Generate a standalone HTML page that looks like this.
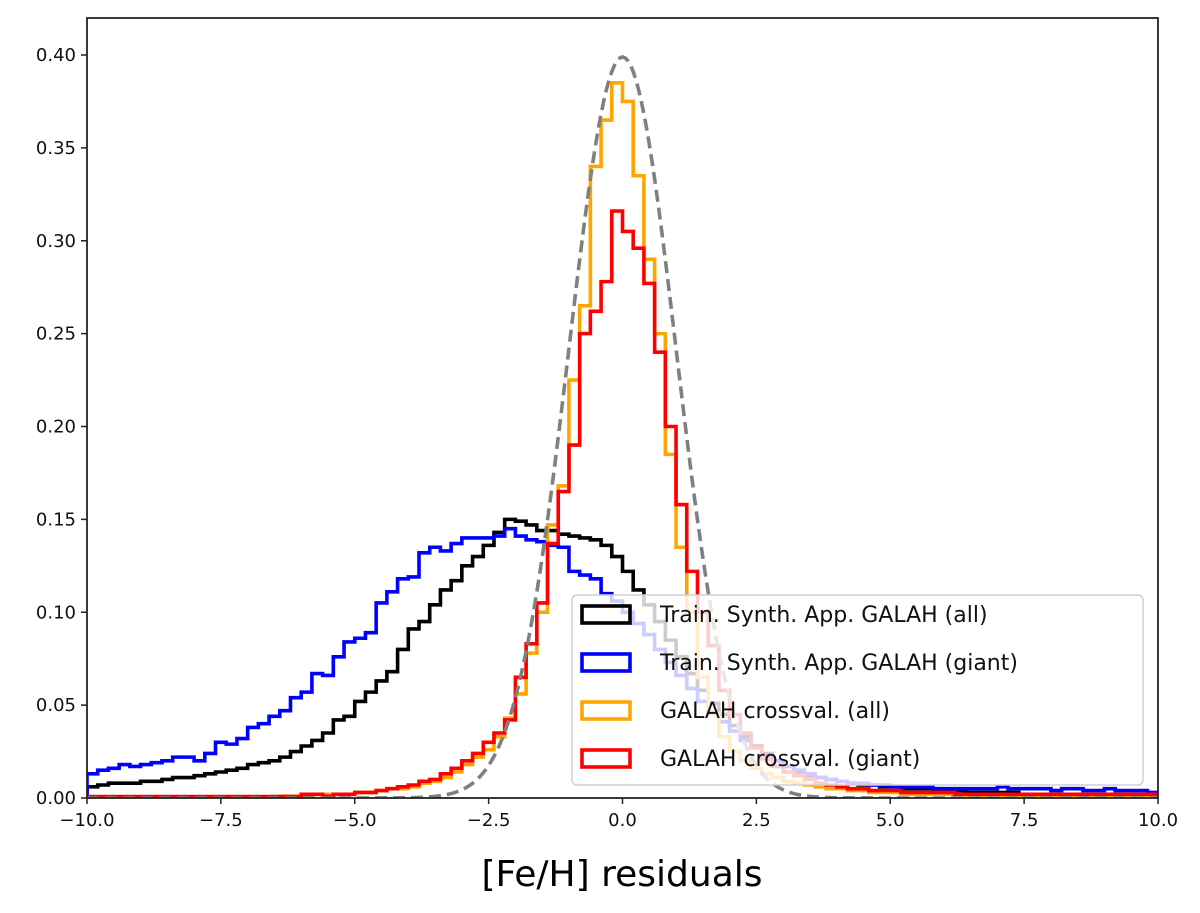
<!DOCTYPE html>
<html><head><meta charset="utf-8"><style>
body{margin:0;background:#fff;}
svg{display:block;font-family:"DejaVu Sans","Liberation Sans",sans-serif;}
</style></head><body>
<svg id="chart" width="1200" height="913">
<rect width="1200" height="913" fill="#fff"/>
<g id="marks"></g>
<g id="axes"></g>
<g id="legend"></g>
<text x="622" y="886" font-size="36" text-anchor="middle" fill="#000">[Fe/H] residuals</text>
</svg>
<script>
const binStart = -10, binWidth = 0.2;
const trainAll = [0.006,0.007,0.008,0.008,0.008,0.009,0.009,0.010,0.011,0.011,
0.012,0.013,0.014,0.015,0.016,0.018,0.019,0.020,0.022,0.025,
0.028,0.031,0.035,0.042,0.044,0.052,0.057,0.063,0.068,0.080,
0.091,0.095,0.104,0.112,0.117,0.125,0.130,0.136,0.143,0.150,
0.149,0.147,0.144,0.144,0.142,0.141,0.140,0.139,0.136,0.130,
0.122,0.112,0.104,0.095,0.085,0.076,0.067,0.058,0.051,0.045,
0.039,0.033,0.028,0.024,0.020,0.017,0.014,0.012,0.011,0.010,
0.009,0.008,0.007,0.007,0.006,0.006,0.005,0.005,0.005,0.004,
0.004,0.004,0.003,0.003,0.003,0.003,0.003,0.002,0.002,0.002,
0.002,0.002,0.002,0.002,0.002,0.002,0.002,0.002,0.001,0.001];
const trainGiant = [0.013,0.015,0.016,0.018,0.017,0.018,0.019,0.020,0.022,0.022,
0.020,0.024,0.030,0.029,0.032,0.038,0.040,0.044,0.047,0.054,
0.057,0.067,0.066,0.076,0.084,0.086,0.089,0.105,0.111,0.118,
0.119,0.132,0.135,0.133,0.137,0.140,0.140,0.140,0.141,0.145,
0.141,0.139,0.138,0.136,0.135,0.122,0.120,0.118,0.110,0.106,
0.100,0.094,0.088,0.080,0.073,0.066,0.059,0.052,0.046,0.041,
0.036,0.031,0.027,0.023,0.020,0.017,0.015,0.013,0.011,0.010,
0.009,0.008,0.008,0.007,0.007,0.006,0.006,0.006,0.006,0.005,
0.005,0.005,0.005,0.005,0.005,0.006,0.005,0.005,0.005,0.005,
0.004,0.005,0.005,0.004,0.004,0.005,0.004,0.004,0.004,0.003];
const crossAll = [0.0005,0.0005,0.0005,0.0005,0.0005,0.0005,0.0005,0.0005,0.0005,0.0005,
0.0005,0.0005,0.0005,0.0005,0.0005,0.0005,0.0005,0.0005,0.001,0.001,
0.001,0.002,0.002,0.002,0.002,0.003,0.003,0.004,0.005,0.005,
0.006,0.008,0.009,0.011,0.014,0.018,0.022,0.026,0.033,0.043,
0.056,0.078,0.100,0.147,0.168,0.225,0.265,0.340,0.365,0.385,
0.375,0.335,0.290,0.250,0.185,0.135,0.100,0.065,0.045,0.033,
0.025,0.020,0.016,0.013,0.011,0.009,0.008,0.007,0.006,0.005,
0.005,0.004,0.004,0.003,0.003,0.003,0.002,0.002,0.002,0.002,
0.002,0.002,0.001,0.001,0.001,0.001,0.001,0.001,0.001,0.001,
0.001,0.001,0.001,0.001,0.001,0.001,0.001,0.001,0.001,0.001];
const crossGiant = [0.0008,0.0008,0.0008,0.0008,0.0008,0.0008,0.0008,0.0008,0.0008,0.0008,
0.0008,0.0008,0.0008,0.0008,0.0008,0.0008,0.0008,0.0008,0.0008,0.0008,
0.002,0.002,0.001,0.002,0.002,0.003,0.003,0.004,0.005,0.006,
0.007,0.009,0.010,0.013,0.016,0.020,0.024,0.030,0.035,0.042,
0.065,0.083,0.105,0.137,0.165,0.190,0.250,0.262,0.278,0.316,
0.305,0.296,0.277,0.240,0.200,0.158,0.122,0.100,0.082,0.058,
0.045,0.035,0.027,0.021,0.017,0.014,0.012,0.010,0.008,0.007,
0.006,0.005,0.005,0.004,0.004,0.004,0.003,0.003,0.003,0.003,
0.003,0.002,0.002,0.002,0.002,0.002,0.002,0.002,0.002,0.002,
0.002,0.002,0.002,0.002,0.002,0.002,0.002,0.002,0.002,0.002];
const gaussMu = 0, gaussSigma = 1;
const xTicks = [-10,-7.5,-5,-2.5,0,2.5,5,7.5,10];
const xTickLabels = ["\u221210.0","\u22127.5","\u22125.0","\u22122.5","0.0","2.5","5.0","7.5","10.0"];
const yTicks = [0,0.05,0.10,0.15,0.20,0.25,0.30,0.35,0.40];
const yTickLabels = ["0.00","0.05","0.10","0.15","0.20","0.25","0.30","0.35","0.40"];
const seriesNames = ["Train. Synth. App. GALAH (all)","Train. Synth. App. GALAH (giant)","GALAH crossval. (all)","GALAH crossval. (giant)"];

const L=87,R=1158,T=18,B=798;
const xs=v=>L+(v+10)/20*(R-L);
const ys=v=>B-v/0.40*(B-55);
const NS="http://www.w3.org/2000/svg";
function mk(tag,attrs,parent){const e=document.createElementNS(NS,tag);for(const k in attrs)e.setAttribute(k,attrs[k]);parent.appendChild(e);return e;}
const marks=document.getElementById('marks'),axes=document.getElementById('axes'),leg=document.getElementById('legend');
const defs=mk('clipPath',{id:'clip'},marks);mk('rect',{x:L,y:T,width:R-L,height:B-T},defs);
const g=mk('g',{'clip-path':'url(#clip)'},marks);
function stepPath(vals){let d=`M${xs(binStart)},${B}`;vals.forEach((v,i)=>{const x0=xs(binStart+i*binWidth),x1=xs(binStart+(i+1)*binWidth);d+=` L${x0},${ys(v)} L${x1},${ys(v)}`;});d+=` L${xs(binStart+vals.length*binWidth)},${B}`;return d;}
const series=[[trainAll,'#000','hist-train-all'],[trainGiant,'#0000ff','hist-train-giant'],[crossAll,'#ffa500','hist-crossval-all'],[crossGiant,'#ff0000','hist-crossval-giant']];
series.forEach(s=>{const p=mk('path',{d:stepPath(s[0]),fill:'none',stroke:s[1],'stroke-width':3.6,'stroke-linejoin':'miter'},g);

});
let gd='';for(let i=0;i<=400;i++){const x=-10+i*0.05;const y=Math.exp(-0.5*((x-gaussMu)/gaussSigma)**2)/(gaussSigma*Math.sqrt(2*Math.PI));gd+=(i?' L':'M')+xs(x)+','+ys(y);}
const gp=mk('path',{d:gd,fill:'none',stroke:'#808080','stroke-width':3.6,'stroke-dasharray':'12,6'},g);


const fr=mk('rect',{x:L,y:T,width:R-L,height:B-T,fill:'none',stroke:'#222','stroke-width':1.8},axes);


xTicks.forEach((v,i)=>{mk('line',{x1:xs(v),x2:xs(v),y1:B,y2:B+6,stroke:'#222','stroke-width':1.5},axes);
const t=mk('text',{x:xs(v),y:B+28,'font-size':18,'text-anchor':'middle',fill:'#111'},axes);t.textContent=xTickLabels[i];

});
yTicks.forEach((v,i)=>{mk('line',{x1:L-6,x2:L,y1:ys(v),y2:ys(v),stroke:'#222','stroke-width':1.5},axes);
const t=mk('text',{x:L-11,y:ys(v)+6,'font-size':18,'text-anchor':'end',fill:'#111'},axes);t.textContent=yTickLabels[i];

});
mk('rect',{x:572,y:595,width:571,height:190,rx:5,fill:'rgba(255,255,255,0.8)',stroke:'#d0d0d0','stroke-width':1.5},leg);
series.forEach((s,i)=>{const y=614+i*48;
mk('rect',{x:582,y:y-8,width:48,height:17,fill:'none',stroke:s[1],'stroke-width':3.6},leg);
const t=mk('text',{x:660,y:y+8,'font-size':22,fill:'#111'},leg);t.textContent=seriesNames[i];

});
</script>
</body></html>
